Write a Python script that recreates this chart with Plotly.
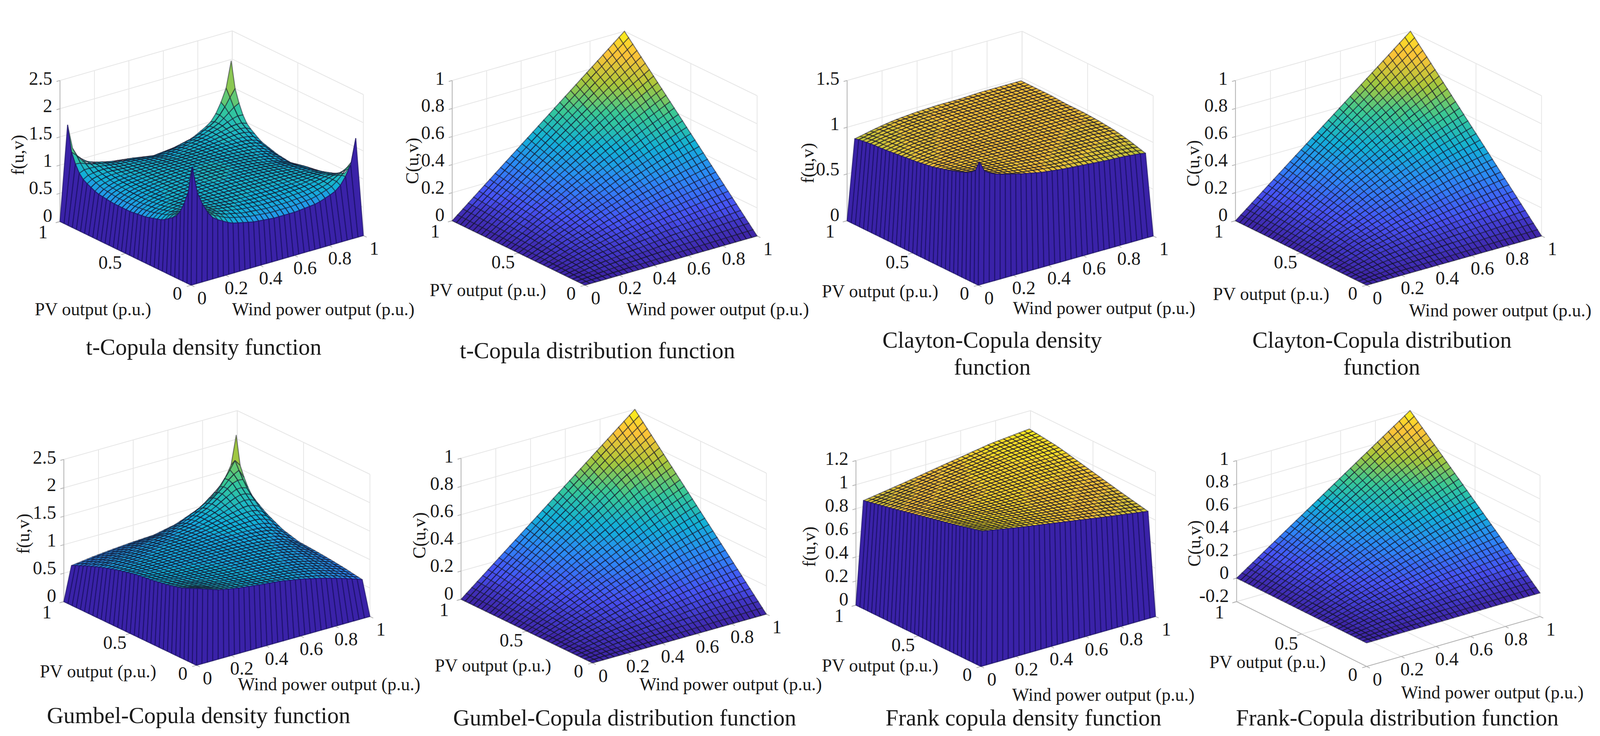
import plotly.graph_objects as go

W, H = 4161, 1884

# ---------- data ----------
density_grid = [.025, .05, .1, .15, .25, .375, .5, .625, .75, .85, .9, .95, .975]
frank_grid = [.025, .25, .5, .75, .975]
dist_grid = [0, .2, .4, .6, .8, 1]

t_density = [
    [2.05, 1.60, 1.22, 1.02, .85, .76, .72, .72, .76, .87, 1.00, 1.30, 1.72],
    [1.60, 1.48, 1.22, 1.06, .91, .82, .78, .78, .82, .92, 1.03, 1.22, 1.30],
    [1.22, 1.22, 1.16, 1.07, .96, .88, .85, .85, .88, .95, 1.02, 1.05, 1.02],
    [1.02, 1.06, 1.07, 1.04, .97, .92, .89, .89, .91, .96, .99, .98, .92],
    [.85, .91, .96, .97, .97, .95, .94, .93, .93, .93, .93, .90, .85],
    [.76, .82, .88, .92, .95, .97, .97, .96, .94, .91, .89, .85, .78],
    [.72, .78, .85, .89, .94, .97, .98, .97, .94, .89, .85, .78, .72],
    [.72, .78, .85, .89, .93, .96, .97, .97, .95, .92, .89, .82, .76],
    [.76, .82, .88, .91, .93, .94, .94, .95, .97, .97, .96, .91, .85],
    [.87, .92, .95, .96, .93, .91, .89, .92, .97, 1.04, 1.07, 1.06, 1.02],
    [1.00, 1.03, 1.02, .99, .93, .89, .85, .89, .96, 1.07, 1.16, 1.22, 1.22],
    [1.30, 1.22, 1.05, .98, .90, .85, .78, .82, .91, 1.06, 1.22, 1.48, 1.60],
    [1.72, 1.30, 1.02, .92, .85, .78, .72, .76, .85, 1.02, 1.22, 1.60, 2.02],
]
gumbel_density = [
    [1.30, 1.27, 1.22, 1.17, 1.11, 1.06, 1.02, .95, .86, .77, .72, .67, .64],
    [1.27, 1.26, 1.21, 1.16, 1.10, 1.05, 1.01, .95, .87, .78, .73, .68, .65],
    [1.22, 1.21, 1.18, 1.14, 1.09, 1.04, 1.00, .96, .89, .80, .75, .70, .67],
    [1.17, 1.16, 1.14, 1.12, 1.07, 1.03, 1.00, .96, .90, .82, .77, .72, .69],
    [1.11, 1.10, 1.09, 1.07, 1.05, 1.02, 1.00, .97, .92, .85, .80, .75, .72],
    [1.06, 1.05, 1.04, 1.03, 1.02, 1.01, 1.00, .98, .95, .89, .84, .78, .75],
    [1.02, 1.01, 1.00, 1.00, 1.00, 1.00, 1.00, .99, .97, .93, .88, .81, .77],
    [.95, .95, .96, .96, .97, .98, .99, 1.01, 1.02, 1.00, .97, .90, .85],
    [.86, .87, .89, .90, .92, .95, .97, 1.02, 1.10, 1.15, 1.15, 1.08, 1.00],
    [.77, .78, .80, .82, .85, .89, .93, 1.00, 1.15, 1.32, 1.38, 1.32, 1.17],
    [.72, .73, .75, .77, .80, .84, .88, .97, 1.15, 1.38, 1.52, 1.52, 1.35],
    [.67, .68, .70, .72, .75, .78, .81, .90, 1.08, 1.32, 1.52, 1.78, 1.65],
    [.64, .65, .67, .69, .72, .75, .77, .85, 1.00, 1.17, 1.35, 1.65, 2.12],
]
clayton_density = [
    [1.29, 1.18, 1.12, 1.09, 1.04, .99, .96, .94, .92, .91, .90, .89, .88],
    [1.18, 1.15, 1.10, 1.07, 1.03, 1.00, .97, .95, .93, .92, .91, .90, .89],
    [1.12, 1.10, 1.08, 1.06, 1.03, 1.00, .98, .97, .95, .94, .93, .92, .91],
    [1.09, 1.07, 1.06, 1.05, 1.03, 1.01, .99, .98, .97, .95, .95, .94, .93],
    [1.04, 1.03, 1.03, 1.03, 1.02, 1.01, 1.00, .99, .98, .98, .97, .97, .96],
    [.99, 1.00, 1.00, 1.01, 1.01, 1.01, 1.00, 1.00, .99, .99, .99, .98, .98],
    [.96, .97, .98, .99, 1.00, 1.00, 1.00, 1.00, 1.00, 1.00, .99, .99, .99],
    [.94, .95, .97, .98, .99, 1.00, 1.00, 1.00, 1.00, 1.00, 1.00, 1.00, .99],
    [.92, .93, .95, .97, .98, .99, 1.00, 1.00, 1.00, 1.00, 1.00, 1.00, 1.00],
    [.91, .92, .94, .95, .98, .99, 1.00, 1.00, 1.00, 1.00, 1.00, 1.00, 1.00],
    [.90, .91, .93, .95, .97, .99, .99, 1.00, 1.00, 1.00, 1.00, 1.00, 1.00],
    [.89, .90, .92, .94, .97, .98, .99, 1.00, 1.00, 1.00, 1.00, 1.00, 1.00],
    [.88, .89, .91, .93, .96, .98, .99, .99, 1.00, 1.00, 1.00, 1.00, 1.00],
]
frank_density = [
    [1.10, 1.04, .98, .92, .87],
    [1.04, 1.02, .99, .96, .92],
    [.98, .99, 1.00, 1.00, .98],
    [.92, .96, 1.00, 1.03, 1.04],
    [.87, .92, .98, 1.04, 1.07],
]
t_dist = [
    [0, 0, 0, 0, 0, 0],
    [0, .06, .10, .14, .17, .2],
    [0, .10, .19, .27, .34, .4],
    [0, .14, .27, .39, .50, .6],
    [0, .17, .34, .50, .66, .8],
    [0, .2, .4, .6, .8, 1],
]
clayton_dist = [
    [0, 0, 0, 0, 0, 0],
    [0, .07, .11, .14, .17, .2],
    [0, .11, .20, .28, .35, .4],
    [0, .14, .28, .40, .51, .6],
    [0, .17, .35, .51, .66, .8],
    [0, .2, .4, .6, .8, 1],
]
gumbel_dist = [
    [0, 0, 0, 0, 0, 0],
    [0, .05, .09, .13, .17, .2],
    [0, .09, .18, .26, .34, .4],
    [0, .13, .26, .38, .50, .6],
    [0, .17, .34, .50, .67, .8],
    [0, .2, .4, .6, .8, 1],
]
frank_dist = [
    [0, 0, 0, 0, 0, 0],
    [0, .06, .10, .14, .17, .2],
    [0, .10, .19, .27, .34, .4],
    [0, .14, .27, .39, .50, .6],
    [0, .17, .34, .50, .66, .8],
    [0, .2, .4, .6, .8, 1],
]
wind_ticks = [0, .2, .4, .6, .8, 1]
pv_ticks = [0, .5, 1]
z_ticks_t = [0, .5, 1, 1.5, 2, 2.5]
z_ticks_c = [0, .2, .4, .6, .8, 1]
z_ticks_clayton = [0, .5, 1, 1.5]
z_ticks_frank = [0, .2, .4, .6, .8, 1, 1.2]
z_ticks_frank_c = [-.2, 0, .2, .4, .6, .8, 1]
wind_label = "Wind power output (p.u.)"
pv_label = "PV output (p.u.)"

# ---------- styling / layout ----------
parula = [(62, 38, 168), (71, 82, 244), (45, 135, 247), (18, 177, 214),
          (55, 200, 151), (171, 199, 57), (254, 195, 56), (249, 251, 20)]
BINS = 40
CELLS = 32
wall_color = "#3a22a8"
wall_line = "rgba(28,18,105,0.7)"
mesh_line = "rgba(18,18,40,0.5)"
grid_color = "#e6e6e6"
axis_color = "#b4b4b4"
SERIF = "Liberation Serif"
TEXT = "#1a1a1a"
TICK_SIZE = 48
LABEL_SIZE = 46
TITLE_SIZE = 59

panels = [
    dict(g=density_grid, z=t_density, zt=z_ticks_t, cmax=2.1, cap=2.1, wall=True, yl="f(u,v)",
         title=["t-Copula density function"], L=(156, 567), F=(497, 730), R=(945, 603), top=206,
         pv=(242, 791), wind=(841, 791), ylab=(46, 397), tp=(530, 888)),
    dict(g=dist_grid, z=t_dist, zt=z_ticks_c, cmax=1, cap=1, wall=False, yl="C(u,v)",
         title=["t-Copula distribution function"], L=(1176, 565), F=(1521, 730), R=(1969, 604), top=206,
         pv=(1269, 742), wind=(1867, 791), ylab=(1072, 412), tp=(1554, 897)),
    dict(g=density_grid, z=clayton_density, zt=z_ticks_clayton, cmax=1.18, cap=1.02, wall=True, yl="f(u,v)",
         title=["Clayton-Copula density", "function"], L=(2203, 565), F=(2544, 730), R=(2999, 604), top=206,
         pv=(2289, 745), wind=(2871, 788), ylab=(2100, 418), tp=(2581, 870)),
    dict(g=dist_grid, z=clayton_dist, zt=z_ticks_c, cmax=1, cap=1, wall=False, yl="C(u,v)",
         title=["Clayton-Copula distribution", "function"], L=(3213, 565), F=(3554, 730), R=(4009, 604), top=206,
         pv=(3306, 752), wind=(3901, 794), ylab=(3102, 418), tp=(3594, 870)),
    dict(g=density_grid, z=gumbel_density, zt=z_ticks_t, cmax=2.45, cap=2.45, wall=True, yl="f(u,v)",
         title=["Gumbel-Copula density function"], L=(166, 1540), F=(511, 1703), R=(962, 1578), top=1176,
         pv=(255, 1718), wind=(856, 1751), ylab=(60, 1367), tp=(517, 1831)),
    dict(g=dist_grid, z=gumbel_dist, zt=z_ticks_c, cmax=1, cap=1, wall=False, yl="C(u,v)",
         title=["Gumbel-Copula distribution function"], L=(1199, 1534), F=(1541, 1697), R=(1993, 1572), top=1173,
         pv=(1282, 1703), wind=(1900, 1751), ylab=(1090, 1370), tp=(1624, 1837)),
    dict(g=frank_grid, z=frank_density, zt=z_ticks_frank, cmax=1.12, cap=1.12, wall=True, yl="f(u,v)",
         title=["Frank copula density function"], L=(2226, 1549), F=(2551, 1706), R=(3005, 1578), top=1179,
         pv=(2289, 1703), wind=(2869, 1778), ylab=(2104, 1400), tp=(2662, 1837)),
    dict(g=dist_grid, z=frank_dist, zt=z_ticks_frank_c, cmax=1, cap=1, wall=False, yl="C(u,v)",
         title=["Frank-Copula distribution function"], L=(3216, 1540), F=(3554, 1706), R=(4005, 1578), top=1179,
         pv=(3296, 1694), wind=(3881, 1772), ylab=(3105, 1391), tp=(3634, 1837)),
]


def parula_color(t):
    t = max(0, min(1, t)) * (len(parula) - 1)
    k = min(int(t), len(parula) - 2)
    a = t - k
    r, g, b = [round(parula[k][c] * (1 - a) + parula[k + 1][c] * a) for c in range(3)]
    return f"rgb({r},{g},{b})"


def sample(g, z, x, y):
    """Read a panel's surface at (x, y) from its own grid."""
    def cell(v):
        for k in range(len(g) - 1):
            if v <= g[k + 1]:
                return k, (v - g[k]) / (g[k + 1] - g[k])
        return len(g) - 2, 1.0
    j, a = cell(x)
    i, b = cell(y)
    return ((1 - a) * (1 - b) * z[i][j] + a * (1 - b) * z[i][j + 1]
            + (1 - a) * b * z[i + 1][j] + a * b * z[i + 1][j + 1])


fig = go.Figure()
annots = []


def note(text, x, y, size, angle=0, anchor="center"):
    annots.append(dict(text=text, x=x, y=y, xref="x", yref="y", showarrow=False,
                       xanchor=anchor, yanchor="middle", textangle=angle,
                       font=dict(family=SERIF, size=size, color=TEXT)))


def polyline(pts_list, color, width):
    xs, ys = [], []
    for pts in pts_list:
        xs += [q[0] for q in pts] + [None]
        ys += [q[1] for q in pts] + [None]
    fig.add_trace(go.Scatter(x=xs, y=ys, mode="lines", hoverinfo="skip",
                             line=dict(color=color, width=width)))


def polygons(pts_list, fill, line, width):
    xs, ys = [], []
    for pts in pts_list:
        xs += [q[0] for q in pts] + [pts[0][0], None]
        ys += [q[1] for q in pts] + [pts[0][1], None]
    fig.add_trace(go.Scatter(x=xs, y=ys, mode="lines", fill="toself", fillcolor=fill, hoverinfo="skip",
                             line=dict(color=line, width=width)))


for p in panels:
    g, z, zt = p["g"], p["z"], p["zt"]
    zmin, zmax = zt[0], zt[-1]
    Lx, Ly = p["L"]; Fx, Fy = p["F"]; Rx, Ry = p["R"]
    zpx = Ly - p["top"]

    def proj(x, y, v, Fx=Fx, Fy=Fy, Lx=Lx, Ly=Ly, Rx=Rx, Ry=Ry, zpx=zpx, zmin=zmin, zmax=zmax):
        return (Fx + x * (Rx - Fx) + y * (Lx - Fx),
                Fy + x * (Ry - Fy) + y * (Ly - Fy) - (v - zmin) / (zmax - zmin) * zpx)

    # back walls, floor and axes
    grid = []
    for v in zt:
        grid.append([proj(0, 1, v), proj(1, 1, v), proj(1, 0, v)])
    for t in wind_ticks:
        grid.append([proj(t, 0, zmin), proj(t, 1, zmin), proj(t, 1, zmax)])
    for t in pv_ticks:
        grid.append([proj(0, t, zmin), proj(1, t, zmin), proj(1, t, zmax)])
    polyline(grid, grid_color, 2)
    axes = [[proj(0, 1, zmin), proj(0, 1, zmax)], [proj(0, 1, zmin), proj(0, 0, zmin), proj(1, 0, zmin)]]
    axes += [[proj(t, 0, zmin), proj(t, -.025, zmin)] for t in wind_ticks]
    axes += [[proj(0, t, zmin), proj(-.025, t, zmin)] for t in pv_ticks]
    axes += [[proj(0, 1, v), proj(-.02, 1, v)] for v in zt]
    polyline(axes, axis_color, 2)

    # surface facets, coloured from their lower corner, painted low to high
    g0, g1 = g[0], g[-1]
    nodes = [g0 + (g1 - g0) * k / CELLS for k in range(CELLS + 1)]
    bins = {}
    for a in range(CELLS):
        for b in range(CELLS):
            x0, x1, y0, y1 = nodes[a], nodes[a + 1], nodes[b], nodes[b + 1]
            v00, v10 = sample(g, z, x0, y0), sample(g, z, x1, y0)
            v11, v01 = sample(g, z, x1, y1), sample(g, z, x0, y1)
            c = min(v00, p["cap"]) / p["cmax"]
            quad = [proj(x0, y0, v00), proj(x1, y0, v10), proj(x1, y1, v11), proj(x0, y1, v01)]
            bins.setdefault(round(c * BINS), []).append(quad)
    for key in sorted(bins):
        polygons(bins[key], parula_color(key / BINS), mesh_line, 2.5)

    # the two near walls drop from the surface edge to the floor
    if p["wall"]:
        strips = []
        for a in range(CELLS):
            c0, c1 = nodes[a], nodes[a + 1]
            b0, b1 = a / CELLS, (a + 1) / CELLS
            strips.append([proj(b0, 0, zmin), proj(b1, 0, zmin),
                           proj(c1, g0, sample(g, z, c1, g0)), proj(c0, g0, sample(g, z, c0, g0))])
            strips.append([proj(0, b0, zmin), proj(0, b1, zmin),
                           proj(g0, c1, sample(g, z, g0, c1)), proj(g0, c0, sample(g, z, g0, c0))])
        polygons(strips, wall_color, wall_line, 2.5)

    # texts
    wx, wy, px, py = Rx - Fx, Fy - Ry, Fx - Lx, Fy - Ly
    for t in wind_ticks:
        note(f"{t:g}", Fx + t * wx + 28, Fy - t * wy + 32, TICK_SIZE)
    for t in pv_ticks:
        note(f"{t:g}", Fx - t * px - 36 - 8 * t, Fy - t * py + 20 + 6 * t, TICK_SIZE)
    for t in zt:
        frac = (t - zmin) / (zmax - zmin)
        note(f"{t:g}", Lx - 18, Ly - frac * zpx - 16 + 10 * frac, TICK_SIZE, anchor="right")
    note(pv_label, *p["pv"], LABEL_SIZE)
    note(wind_label, *p["wind"], LABEL_SIZE)
    note(p["yl"], *p["ylab"], LABEL_SIZE, angle=-90)
    for k, line in enumerate(p["title"]):
        note(line, p["tp"][0], p["tp"][1] + k * 69, TITLE_SIZE)

# the figure fills whatever the window really is, so nothing is lost at its right edge
fig.update_layout(autosize=True, margin=dict(l=0, r=0, t=0, b=0), paper_bgcolor="white",
                  plot_bgcolor="white", showlegend=False, annotations=annots, hovermode=False,
                  xaxis=dict(range=[0, W], visible=False, fixedrange=True),
                  yaxis=dict(range=[H, 0], visible=False, fixedrange=True))
fig.write_html("out.html", config=dict(displayModeBar=False, responsive=True),
               default_width="100vw", default_height="100vh",
               post_script="document.body.style.margin='0';document.documentElement.style.overflow='hidden';"
                           "Plotly.Plots.resize(document.getElementById('{plot_id}'));")
